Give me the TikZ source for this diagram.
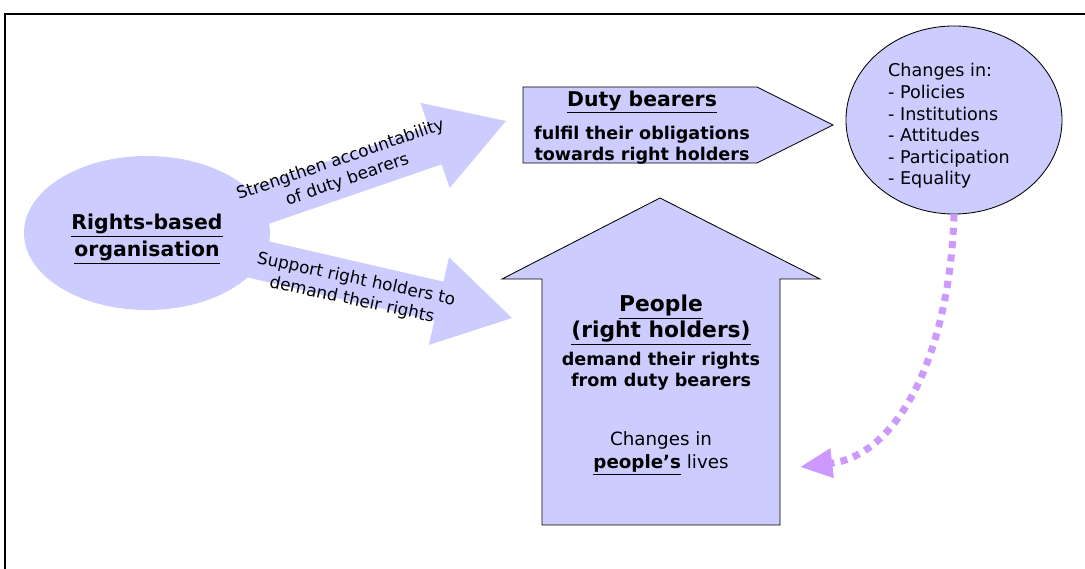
\documentclass[tikz,border=0pt]{standalone}
\usepackage{fontspec}
\setmainfont{DejaVu Sans}
\usetikzlibrary{arrows.meta, calc, positioning, shapes.geometric}
\definecolor{lav}{HTML}{CCCCFF}
\definecolor{lilac}{HTML}{CC99FF}

\begin{document}
\begin{tikzpicture}[x=0.025cm, y=-0.025cm,
  outlined/.style={fill=lav, draw=black, line width=0.6pt},
  lbl/.style={align=center, inner sep=0pt, font=\fontsize{12}{15}\selectfont},
  title/.style={align=center, inner sep=0pt, font=\bfseries\fontsize{14.5}{19}\selectfont},
  body/.style={align=center, inner sep=0pt, font=\bfseries\fontsize{12.5}{15}\selectfont},
  dots/.style={lilac, line width=5pt, dash pattern=on 5pt off 4.5pt,
    -{Triangle[length=23pt, width=20pt]}}
  ]
\useasboundingbox (0,0) rectangle (1085,569);
\draw[line width=1.4pt] (5,569) -- (5,14) -- (1085,14);

% arrows out of the organisation
\begin{scope}[shift={(506,121)}, rotate=19]
  \fill[lav] (0,0) -- (-75,-45) -- (-75,-20) -- (-300,-20) -- (-300,20) -- (-75,20) -- (-75,45) -- cycle;
\end{scope}
\begin{scope}[shift={(512,318)}, rotate=-13]
  \fill[lav] (0,0) -- (-75,-45) -- (-75,-20) -- (-300,-20) -- (-300,20) -- (-75,20) -- (-75,45) -- cycle;
\end{scope}
\node (org) [ellipse, fill=lav, minimum width=6.15cm, minimum height=3.85cm] at (147,233) {};
\node (orgtxt) [title] at (147,239) {\underline{Rights-based}\\\underline{organisation}};
\node (up) [lbl, rotate=19] at (344,170) {Strengthen accountability\\of duty bearers};
\node (down) [lbl, rotate=-12] at (354,290) {Support right holders to\\demand their rights};

% duty bearers
\draw[outlined] (523,87) -- (757,87) -- (833,125) -- (757,163) -- (523,163) -- cycle;
\node (duty) [title] at (642,102) {\underline{Duty bearers}};
\node (dutytxt) [body, below=0.3cm of duty] {fulfil their obligations\\towards right holders};

% changes
\node (chg) [ellipse, outlined, minimum width=5.4cm, minimum height=4.7cm] at (954,120) {};
\node (chgtxt) [align=left, inner sep=0pt, font=\fontsize{12.5}{15.4}\selectfont] at (949,126)
  {Changes in:\\- Policies\\- Institutions\\- Attitudes\\- Participation\\- Equality};

% people
\draw[outlined] (660,198) -- (820,279) -- (780,279) -- (780,525) -- (542,525) -- (542,279) -- (502,279) -- cycle;
\node (ppl) [title, font=\bfseries\fontsize{15.5}{17}\selectfont] at (661,320) {\underline{People}\\\underline{(right holders)}};
\node (ppltxt) [body] at (661,371) {demand their rights\\from duty bearers};
\node (lives) [align=center, inner sep=0pt, font=\fontsize{13}{16.5}\selectfont] at (661,453)
  {Changes in\\\textbf{\underline{people's}} lives};

\draw[dots] (chg.south) .. controls (950,350) and (900,455) .. (800,467);
\end{tikzpicture}
\end{document}
